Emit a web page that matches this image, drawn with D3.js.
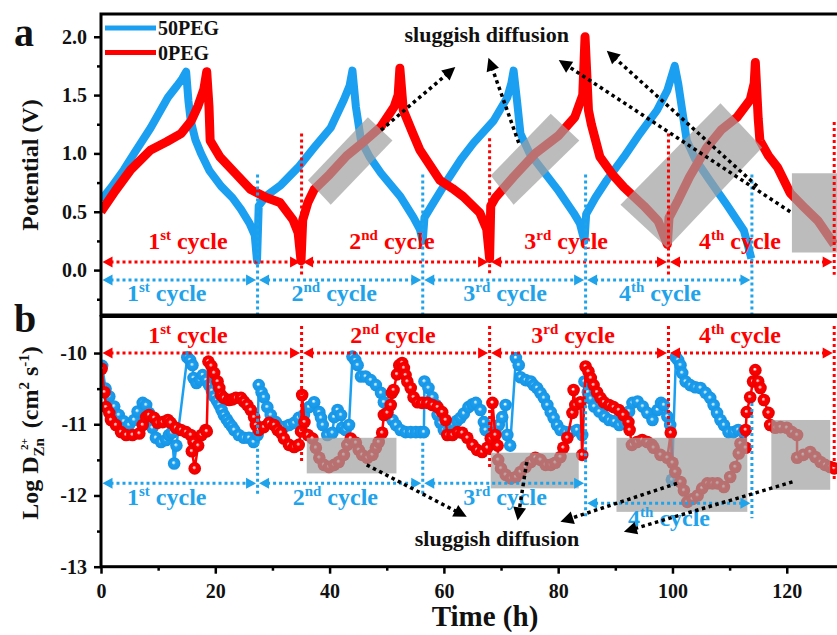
<!DOCTYPE html>
<html>
<head>
<meta charset="utf-8">
<script src="https://cdn.jsdelivr.net/npm/d3@7"></script>
<style>
  body { margin: 0; background: #fff; }
  svg { display: block; }
  text { font-family: "Liberation Serif", "Times New Roman", serif; font-weight: bold; }
</style>
</head>
<body>
<svg id="chart" width="837" height="635"></svg>
<script>
// ---- data ----
var timeTicks = [0, 20, 40, 60, 80, 100, 120]
var timeMinor = [10, 30, 50, 70, 90, 110]
var potTicks = [0, 0.5, 1, 1.5, 2]
var potMinor = [-0.25, 0.25, 0.75, 1.25, 1.75]
var logTicks = [-13, -12, -11, -10]
var logMinor = [-12.5, -11.5, -10.5]

var seriesNames = ["50PEG", "0PEG"]
var cycleNums = ["1", "2", "3", "4"]
var cycleSups = ["st", "nd", "rd", "th"]

// cycle boundaries (h)
var redBounds = [0, 35.1, 68, 99.3, 128.3]
var blueBounds = [0, 27.4, 56.3, 84.8, 113.9]
// where the cycle labels sit (h)
var redLabelA = [15.2, 50.9, 81.4, 111.8]
var blueLabelA = [11.5, 40.8, 70.7, 97.8]
var redLabelB = [15.2, 51.1, 82.6, 111.8]
var blueLabelB = [11.5, 41, 70.7, 99.4]

// panel a : potential (V) vs time (h)
var peg50Potential = [[0,0.6],[1.8,0.71],[4,0.86],[5.8,1.0],[8.7,1.22],[11.7,1.48],[13.3,1.58],[14.2,1.64],[14.9,1.70],[15.3,1.45],[15.7,1.28],[16.5,1.12],[17.5,1.0],[19,0.85],[21,0.72],[23,0.62],[24.5,0.52],[26,0.4],[26.9,0.3],[27.3,0.08],
  [27.6,0.55],[29,0.64],[31.5,0.73],[34.5,0.88],[37.3,1.05],[40.2,1.22],[42.5,1.46],[43.5,1.58],[44,1.71],[44.6,1.4],[45.5,1.11],[47,0.97],[49,0.83],[52.4,0.63],[54.7,0.45],[55.8,0.35],[56.3,0.25],
  [56.6,0.45],[57.7,0.54],[60.6,0.77],[63,0.95],[65.2,1.09],[68.7,1.28],[71.1,1.48],[71.8,1.6],[72.2,1.71],[72.8,1.45],[73.4,1.17],[75,1.0],[76.9,0.88],[79.9,0.69],[82.7,0.49],[83.8,0.4],[84.6,0.25],
  [84.9,0.48],[86.5,0.62],[88.5,0.77],[91.5,0.97],[94.3,1.17],[97.3,1.37],[99.1,1.54],[100.4,1.75],[101,1.6],[101.7,1.37],[102.5,1.11],[104,0.95],[106.5,0.77],[109.5,0.56],[112.5,0.34],[113.8,0.1]]

var peg0Potential = [[0,0.5],[2.5,0.68],[5.2,0.86],[8.7,1.03],[11.5,1.1],[14,1.17],[15.8,1.28],[17,1.41],[18,1.55],[18.5,1.70],[18.9,1.4],[19.1,1.11],[20.8,0.97],[23.5,0.83],[26.2,0.69],[29,0.62],[31.3,0.58],[33.6,0.43],[34.5,0.32],[35.0,0.08],
  [35.3,0.43],[36.2,0.58],[37.3,0.69],[40,0.82],[43,0.98],[46,1.1],[49,1.23],[51.3,1.4],[52,1.5],[52.3,1.73],[52.9,1.37],[54.5,1.18],[55.8,1.03],[59.3,0.77],[61.5,0.7],[63.4,0.63],[66.3,0.49],[67.5,0.35],[68,0.1],
  [68.2,0.55],[69,0.62],[72.2,0.8],[76,1.0],[80,1.15],[82.9,1.31],[84.3,1.5],[84.7,2.0],[85.3,1.37],[85.8,1.25],[87.3,0.97],[89.5,0.82],[91.5,0.71],[95,0.55],[97.5,0.42],[99.1,0.22],
  [99.4,0.45],[101,0.6],[103,0.8],[106,1.05],[108.5,1.2],[111.3,1.31],[113.6,1.46],[114.3,1.6],[114.5,1.78],[115,1.3],[115.3,1.11],[116.8,0.98],[118.4,0.88],[120.6,0.66],[123,0.54],[125.5,0.42],[128.3,0.22]]

// panel b : log D vs time (h)
var peg50LogD = [[0.2,-10.18],[0.8,-10.5],[1.45,-10.61],[2.3,-10.75],[3.1,-10.87],[4.0,-10.96],[4.9,-11.01],[5.8,-10.94],[6.4,-10.82],[7.3,-10.7],[7.9,-10.73],[8.4,-10.84],[9.0,-11.05],[9.6,-11.19],[10.5,-11.25],[11.4,-11.22],[11.9,-11.15],[12.4,-11.12],[12.8,-11.55],[13.2,-11.3],
  [15.1,-10.06],[15.6,-10.1],[16.0,-10.17],[16.2,-10.35],[16.7,-10.42],[17.3,-10.38],[17.8,-10.31],[18.4,-10.38],[18.9,-10.45],[19.4,-10.53],[19.8,-10.61],[20.3,-10.67],[20.7,-10.73],[21.1,-10.8],[21.5,-10.87],[22.0,-10.93],[22.4,-10.98],[22.9,-11.03],[23.3,-11.08],[24.1,-11.15],[25.0,-11.19],[25.9,-11.19],[26.7,-11.25],[27.4,-11.15],
  [27.6,-10.45],[28.1,-10.55],[28.5,-10.62],[29.1,-10.76],[29.7,-10.87],[30.6,-10.97],[31.5,-11.04],[32.0,-11.04],[32.9,-11.01],[33.8,-10.98],[34.6,-10.91],[35.5,-10.87],[36.4,-10.76],[37.3,-10.69],[38.2,-10.83],[38.5,-10.91],[38.8,-11.01],[39.6,-11.15],[40.5,-11.12],[40.8,-10.9],[41.4,-10.8],[42.0,-10.87],[42.2,-11.05],[42.8,-11.08],[43.4,-11.01],
  [44.0,-10.05],[44.5,-10.1],[44.9,-10.17],[45.5,-10.33],[46.3,-10.33],[47.2,-10.38],[48.1,-10.45],[49.0,-10.56],[49.5,-10.69],[50.1,-10.83],[51.0,-10.94],[51.6,-11.01],[52.4,-11.08],[53.3,-11.11],[54.2,-11.11],[55.1,-11.11],[55.9,-11.11],[56.5,-11.11],
  [56.6,-10.4],[57.3,-10.49],[58.0,-10.62],[58.6,-10.73],[58.9,-10.87],[59.4,-10.98],[60.0,-11.08],[60.8,-11.1],[61.6,-11.0],[62.3,-10.95],[62.9,-10.91],[63.5,-10.85],[64.3,-10.76],[65.0,-10.72],[65.6,-10.7],[66.4,-10.8],[67.0,-10.97],[67.3,-11.08],[68.2,-11.15],[69.0,-11.11],[69.6,-11.01],[70.2,-10.9],[70.8,-10.73],[71.1,-11.15],[71.6,-11.3],
  [72.6,-10.07],[73.1,-10.17],[73.4,-10.34],[74.3,-10.38],[75.2,-10.4],[75.7,-10.45],[76.3,-10.49],[76.9,-10.56],[77.5,-10.63],[78.1,-10.73],[78.7,-10.83],[79.2,-10.91],[79.8,-11.01],[80.4,-11.08],[81.3,-11.11],[82.2,-11.11],[83.3,-11.08],[84.2,-11.15],
  [84.6,-10.4],[85.2,-10.55],[85.7,-10.64],[86.3,-10.75],[87.2,-10.82],[88.1,-10.89],[88.9,-10.94],[89.8,-10.96],[90.7,-11.01],[91.6,-10.98],[92.4,-10.82],[93.0,-10.7],[93.9,-10.68],[94.8,-10.75],[95.6,-10.84],[96.5,-10.94],[97.4,-10.8],[98.0,-10.7],[98.5,-10.73],[99.1,-10.89],[99.6,-11.01],[99.9,-11.78],
  [100.6,-10.06],[101.0,-10.1],[101.4,-10.17],[101.7,-10.28],[102.3,-10.4],[103.1,-10.45],[104.0,-10.48],[104.9,-10.49],[105.8,-10.56],[106.6,-10.63],[107.2,-10.73],[107.8,-10.84],[108.4,-10.94],[109.0,-11.01],[109.8,-11.11],[110.7,-11.11],[111.5,-11.08],[112.4,-11.11]]

var peg0LogD = [[0.1,-10.22],[0.6,-10.55],[0.9,-10.76],[1.45,-10.84],[1.75,-10.94],[2.6,-11.01],[3.5,-11.11],[4.4,-11.15],[5.5,-11.15],[6.7,-11.13],[7.3,-11.01],[7.9,-10.9],[8.4,-10.87],[9.3,-10.91],[9.9,-10.98],[10.8,-10.97],[11.7,-10.94],[12.2,-10.98],[13.1,-11.05],[14.0,-11.08],[14.9,-11.11],[15.7,-11.15],[16.2,-11.25],[15.9,-11.38],[16.4,-11.62],[17.0,-11.3],[17.6,-11.15],[18.3,-11.08],[18.5,-11.1],
  [18.8,-10.12],[19.3,-10.18],[19.8,-10.28],[20.4,-10.4],[20.7,-10.49],[21.0,-10.59],[21.5,-10.63],[22.4,-10.66],[23.0,-10.65],[23.6,-10.63],[24.5,-10.63],[25.0,-10.68],[25.6,-10.73],[26.2,-10.8],[26.8,-10.9],[27.1,-11.01],[27.6,-11.08],[28.5,-11.04],[29.4,-10.98],[30.3,-11.01],[30.9,-11.08],[31.5,-11.12],[32.0,-11.2],[32.9,-11.29],[33.8,-11.32],[34.6,-11.29],[35.0,-11.1],[35.2,-10.59],[35.6,-10.97],[36.2,-11.15],
  [37.0,-11.2],[37.6,-11.33],[38.2,-11.47],[39.0,-11.57],[39.9,-11.6],[40.8,-11.57],[41.6,-11.53],[42.5,-11.43],[43.1,-11.29],[43.7,-11.2],[44.6,-11.26],[45.1,-11.36],[45.7,-11.43],[46.6,-11.47],[47.5,-11.43],[48.1,-11.33],[48.6,-11.25],[49.2,-11.12],[49.5,-10.87],[50.1,-10.84],[50.7,-10.73],[50.9,-10.56],[51.2,-10.52],[51.8,-10.3],
  [52.2,-10.17],[52.7,-10.14],[53.0,-10.21],[53.3,-10.31],[53.6,-10.4],[54.2,-10.49],[54.7,-10.62],[55.4,-10.69],[56.2,-10.7],[57.1,-10.7],[58.0,-10.73],[58.9,-10.76],[59.7,-10.83],[60.3,-10.94],[60.6,-11.15],[61.5,-11.15],[62.4,-11.11],[63.2,-11.12],[64.1,-11.19],[65.0,-11.29],[65.8,-11.36],[66.7,-11.39],[67.6,-11.33],[68.2,-11.2],[68.5,-10.7],
  [69.0,-11.15],[69.4,-11.3],[69.5,-11.5],[70.0,-11.62],[70.8,-11.71],[71.7,-11.76],[72.6,-11.74],[73.4,-11.67],[74.3,-11.6],[75.2,-11.53],[76.0,-11.47],[76.9,-11.5],[77.8,-11.57],[78.7,-11.57],[79.5,-11.54],[80.4,-11.46],[80.9,-11.33],[81.6,-11.19],[82.5,-10.84],[82.7,-10.52],[83.0,-10.73],[83.9,-10.69],[84.2,-11.43],
  [84.8,-10.19],[85.3,-10.26],[85.7,-10.35],[86.2,-10.45],[86.8,-10.55],[87.4,-10.63],[88.0,-10.69],[88.9,-10.73],[89.7,-10.76],[90.6,-10.8],[91.4,-10.87],[92.3,-10.97],[92.5,-11.08],[92.9,-11.29],[93.8,-11.25],[94.7,-11.22],[95.6,-11.25],[96.4,-11.29],[96.7,-11.33],[97.9,-11.43],[99.1,-11.47],[99.7,-11.12],
  [100.0,-11.54],[100.5,-11.67],[101.4,-11.81],[102.0,-11.93],[102.6,-12.09],[103.5,-12.05],[104.4,-12.0],[105.2,-11.9],[106.1,-11.83],[107.0,-11.83],[107.9,-11.83],[109.0,-11.88],[110.1,-11.74],[111.0,-11.6],[111.6,-11.41],[111.9,-11.27],[112.8,-11.33],[112.8,-11.08],
  [113.0,-10.83],[113.6,-10.62],[114.1,-10.4],[114.5,-10.24],[115.0,-10.4],[115.4,-10.49],[116.0,-10.66],[116.8,-10.84],[117.1,-11.01],[118.0,-11.05],[118.9,-11.04],[120.0,-11.05],[120.9,-11.11],[121.8,-11.15],[121.8,-11.47],[122.9,-11.43],[124.1,-11.39],[125.0,-11.46],[125.9,-11.53],[126.7,-11.57],[127.6,-11.6],[128.3,-11.62]]

// grey "sluggish diffusion" regions, in data units
var boxesA = [
  [[36.2,0.77],[46.7,1.31],[51.0,1.11],[40.2,0.56]],
  [[68.2,0.81],[78.7,1.34],[83.7,1.11],[72.2,0.56]],
  [[90.9,0.56],[108.4,1.43],[115.7,1.05],[99.1,0.19]],
  [[120.9,0.83],[131,0.83],[131,0.15],[120.9,0.15]]
]
var boxesB = [[36, 51.7, -11.19, -11.69], [68.2, 83.6, -11.40, -11.90], [90.2, 113.1, -11.19, -12.23], [117.3, 127.6, -10.94, -11.92]]
var arrowsA = [[[49,1.2],[62,1.74]], [[73.1,1.09],[67.8,1.82]], [[120.6,0.5],[80.1,1.8]], [[114.8,0.72],[88.5,1.88]]]
var arrowsB = [[[46.5,-11.57],[64,-12.3]], [[74.5,-11.53],[72.9,-12.35]], [[100.8,-11.83],[80.4,-12.37]], [[121,-11.81],[91.5,-12.51]]]

var BLUE = "#1b9ff0", RED = "#ff0000", BLUE_TXT = "#1fa3ea"

var svg = d3.select("#chart")

var x = d3.scaleLinear().domain([0, 129]).range([101, 838.2])
var yA = d3.scaleLinear().domain([-0.385, 2.195]).range([315, 14])
var yB = d3.scaleLinear().domain([-13, -9.48]).range([566.7, 316])

var defs = svg.append("defs")
defs.append("clipPath").attr("id", "clipA").append("rect").attr("x", 101).attr("y", 14).attr("width", 740).attr("height", 301)
defs.append("clipPath").attr("id", "clipB").append("rect").attr("x", 101).attr("y", 316).attr("width", 740).attr("height", 251)
function ballGrad(id, col, dark) {
  var g = defs.append("radialGradient").attr("id", id).attr("cx", 0.5).attr("cy", 0.5).attr("r", 0.5).attr("fx", 0.45).attr("fy", 0.42)
  g.append("stop").attr("offset", "0%").attr("stop-color", "#ffffff").attr("stop-opacity", 0.9)
  g.append("stop").attr("offset", "8%").attr("stop-color", "#ffffff").attr("stop-opacity", 0.75)
  g.append("stop").attr("offset", "32%").attr("stop-color", col)
  g.append("stop").attr("offset", "100%").attr("stop-color", dark)
}
ballGrad("ballBlue", BLUE, "#1794e4")
ballGrad("ballRed", RED, "#ea0000")

// ---------- helpers ----------
function head(g, x1, y1, x2, y2, len, hw, col) {
  var dx = x2 - x1, dy = y2 - y1, l = Math.sqrt(dx * dx + dy * dy)
  var ux = dx / l, uy = dy / l
  var bx = x2 - ux * len, by = y2 - uy * len
  g.append("path")
    .attr("d", "M" + x2 + "," + y2 + "L" + (bx - uy * hw) + "," + (by + ux * hw) + "L" + (bx + uy * hw) + "," + (by - ux * hw) + "Z")
    .attr("fill", col)
}
function dotted(g, x1, y1, x2, y2, col, w) {
  g.append("line").attr("x1", x1).attr("y1", y1).attr("x2", x2).attr("y2", y2)
    .attr("stroke", col).attr("stroke-width", w).attr("stroke-dasharray", w + "," + w)
}
function arrow(g, p1, p2, col, w, len, hw, both) {
  var dx = p2[0] - p1[0], dy = p2[1] - p1[1], l = Math.sqrt(dx * dx + dy * dy)
  var ux = dx / l, uy = dy / l
  var s = both ? len * 0.8 : 0
  dotted(g, p1[0] + ux * s, p1[1] + uy * s, p2[0] - ux * len * 0.8, p2[1] - uy * len * 0.8, col, w)
  head(g, p1[0], p1[1], p2[0], p2[1], len, hw, col)
  if (both) head(g, p2[0], p2[1], p1[0], p1[1], len, hw, col)
}
function cycleLabel(g, xp, yp, n, sup, col) {
  var t = g.append("text").attr("x", xp).attr("y", yp).attr("text-anchor", "middle").attr("fill", col).attr("font-size", 24)
  t.append("tspan").text(n)
  t.append("tspan").attr("dy", -9).attr("font-size", 15).text(sup)
  t.append("tspan").attr("dy", 9).text(" cycle")
}
function cycleMarks(g, bounds, yArrow, col, yLab, labelT, lines) {
  for (var i = 0; i < 4; i++) {
    var ya = typeof yArrow === "number" ? yArrow : yArrow[i]
    arrow(g, [x(bounds[i]) + 1.5, ya], [x(bounds[i + 1]) - 1.5, ya], col, 3, 10, 5.5, true)
    var yl = typeof yLab === "number" ? yLab : yLab[i]
    cycleLabel(g, x(labelT[i]), yl, cycleNums[i], cycleSups[i], col)
  }
  lines.forEach(function (d) { dotted(g, x(d[0]), d[1], x(d[0]), d[2], col, 3) })
}

// ---------- panel a ----------
var gA = svg.append("g")
var plotA = gA.append("g").attr("clip-path", "url(#clipA)")
var lineA = d3.line().x(function (d) { return x(d[0]) }).y(function (d) { return yA(d[1]) })
plotA.append("path").datum(peg50Potential).attr("d", lineA).attr("fill", "none").attr("stroke", BLUE).attr("stroke-width", 8).attr("stroke-linejoin", "round")
plotA.append("path").datum(peg0Potential).attr("d", lineA).attr("fill", "none").attr("stroke", RED).attr("stroke-width", 9).attr("stroke-linejoin", "round")
plotA.selectAll("path.box").data(boxesA).join("path").attr("class", "box")
  .attr("d", function (d) { return "M" + d.map(function (p) { return x(p[0]) + "," + yA(p[1]) }).join("L") + "Z" })
  .attr("fill", "#a0a0a0").attr("fill-opacity", 0.7)

// cycle markers, panel a
var annA = gA.append("g").attr("clip-path", "url(#clipA)")
cycleMarks(annA, redBounds, yA(0.07), RED, 249, redLabelA,
  redBounds.slice(1).map(function (b, i) { return [b, yA([1.17, 1.13, 1.17, 1.27][i]), yA(-0.04)] }))
cycleMarks(annA, blueBounds, yA(-0.085), BLUE_TXT, 301, blueLabelA,
  blueBounds.slice(1).map(function (b) { return [b, yA(0.82), 315] }))
arrowsA.forEach(function (a) {
  arrow(gA, [x(a[0][0]), yA(a[0][1])], [x(a[1][0]), yA(a[1][1])], "#000", 3.5, 13, 6.5, false)
})
gA.append("text").attr("x", x(67.5)).attr("y", 42).attr("text-anchor", "middle").attr("font-size", 22).attr("fill", "#111").text("sluggish diffusion")

// legend
var legCols = [BLUE, RED]
seriesNames.forEach(function (n, i) {
  gA.append("line").attr("x1", 105).attr("x2", 156).attr("y1", 28 + i * 24.5).attr("y2", 28 + i * 24.5).attr("stroke", legCols[i]).attr("stroke-width", 5)
  gA.append("text").attr("x", 158).attr("y", 35 + i * 25).attr("font-size", 20).attr("fill", "#111").text(n)
})

// ---------- panel b ----------
var gB = svg.append("g")
var plotB = gB.append("g").attr("clip-path", "url(#clipB)")
var lineB = d3.line().x(function (d) { return x(d[0]) }).y(function (d) { return yB(d[1]) })
plotB.append("path").datum(peg50LogD).attr("d", lineB).attr("fill", "none").attr("stroke", BLUE).attr("stroke-width", 2.5)
plotB.selectAll("circle.b").data(peg50LogD).join("circle").attr("class", "b")
  .attr("cx", function (d) { return x(d[0]) }).attr("cy", function (d) { return yB(d[1]) }).attr("r", 6.3).attr("fill", "url(#ballBlue)")
plotB.append("path").datum(peg0LogD).attr("d", lineB).attr("fill", "none").attr("stroke", RED).attr("stroke-width", 2.5)
plotB.selectAll("circle.r").data(peg0LogD).join("circle").attr("class", "r")
  .attr("cx", function (d) { return x(d[0]) }).attr("cy", function (d) { return yB(d[1]) }).attr("r", 6.3).attr("fill", "url(#ballRed)")
plotB.selectAll("rect.box").data(boxesB).join("rect").attr("class", "box")
  .attr("x", function (d) { return x(d[0]) }).attr("width", function (d) { return x(d[1]) - x(d[0]) })
  .attr("y", function (d) { return yB(d[2]) }).attr("height", function (d) { return yB(d[3]) - yB(d[2]) })
  .attr("fill", "#a0a0a0").attr("fill-opacity", 0.7)

var annB = gB.append("g").attr("clip-path", "url(#clipB)")
cycleMarks(annB, redBounds, yB(-10), RED, 343, redLabelB,
  redBounds.slice(1).map(function (b, i) { return [b, yB(-9.62), yB([-11.55, -11.6, -11.2, -11.8][i])] }))
cycleMarks(annB, blueBounds, [yB(-11.83), yB(-11.83), yB(-11.83), yB(-12.11)], BLUE_TXT, [505, 505, 505, 526], blueLabelB,
  blueBounds.slice(1).map(function (b, i) { return [b, yB([-10.84, -11.26, -10.48, -10.7][i]), yB([-12.0, -12.02, -12.3, -12.32][i])] }))
arrowsB.forEach(function (a) {
  arrow(gB, [x(a[0][0]), yB(a[0][1])], [x(a[1][0]), yB(a[1][1])], "#000", 3.5, 13, 6.5, false)
})
gB.append("text").attr("x", x(69.3)).attr("y", 546).attr("text-anchor", "middle").attr("font-size", 22).attr("fill", "#111").text("sluggish diffusion")

// ---------- axes & frames ----------
function styleAxis(sel) {
  sel.select(".domain").remove()
  sel.selectAll(".tick line").attr("stroke", "#000").attr("stroke-width", 2.5)
  sel.selectAll(".tick text").attr("fill", "#111").attr("font-size", 20).attr("font-family", "Liberation Serif").attr("font-weight", "bold")
}
svg.append("g").attr("transform", "translate(101,0)")
  .call(d3.axisLeft(yA).tickValues(potTicks).tickSize(7).tickPadding(7).tickFormat(d3.format(".1f"))).call(styleAxis)
svg.append("g").attr("transform", "translate(101,0)")
  .call(d3.axisLeft(yA).tickValues(potMinor).tickSize(4).tickFormat("")).call(styleAxis)
svg.append("g").attr("transform", "translate(101,0)")
  .call(d3.axisLeft(yB).tickValues(logTicks).tickSize(7).tickPadding(7).tickFormat(function (d) { return String(d) })).call(styleAxis)
svg.append("g").attr("transform", "translate(101,0)")
  .call(d3.axisLeft(yB).tickValues(logMinor).tickSize(4).tickFormat("")).call(styleAxis)
svg.append("g").attr("transform", "translate(0,566.7)")
  .call(d3.axisBottom(x).tickValues(timeTicks).tickSize(7).tickPadding(10).tickFormat(function (d) { return String(d) })).call(styleAxis)
svg.append("g").attr("transform", "translate(0,566.7)")
  .call(d3.axisBottom(x).tickValues(timeMinor).tickSize(4).tickFormat("")).call(styleAxis)

svg.append("rect").attr("x", 101).attr("y", 14).attr("width", 760).attr("height", 301).attr("fill", "none").attr("stroke", "#000").attr("stroke-width", 3)
svg.append("rect").attr("x", 101).attr("y", 316.5).attr("width", 760).attr("height", 250.2).attr("fill", "none").attr("stroke", "#000").attr("stroke-width", 3)

// ---------- titles ----------
svg.append("text").attr("x", 14).attr("y", 46).attr("font-size", 40).attr("fill", "#111").text("a")
svg.append("text").attr("x", 14).attr("y", 332).attr("font-size", 40).attr("fill", "#111").text("b")
svg.append("text").attr("x", 485).attr("y", 626).attr("text-anchor", "middle").attr("font-size", 29).attr("fill", "#111").text("Time (h)")
svg.append("text").attr("transform", "translate(38,165) rotate(-90)").attr("text-anchor", "middle").attr("font-size", 24).attr("fill", "#111").text("Potential (V)")

var yl = svg.append("text").attr("transform", "translate(38,433) rotate(-90)").attr("text-anchor", "middle").attr("font-size", 24).attr("fill", "#111")
yl.append("tspan").text("Log D")
yl.append("tspan").attr("dy", 6).attr("font-size", 15).text("Zn")
yl.append("tspan").attr("dy", -16).attr("dx", -12).attr("font-size", 11).text("2+")
yl.append("tspan").attr("dy", 10).attr("dx", 4).text(" (cm")
yl.append("tspan").attr("dy", -9).attr("font-size", 15).text("2")
yl.append("tspan").attr("dy", 9).text(" s")
yl.append("tspan").attr("dy", -9).attr("font-size", 15).text("-1")
yl.append("tspan").attr("dy", 9).text(")")
</script>
</body>
</html>
